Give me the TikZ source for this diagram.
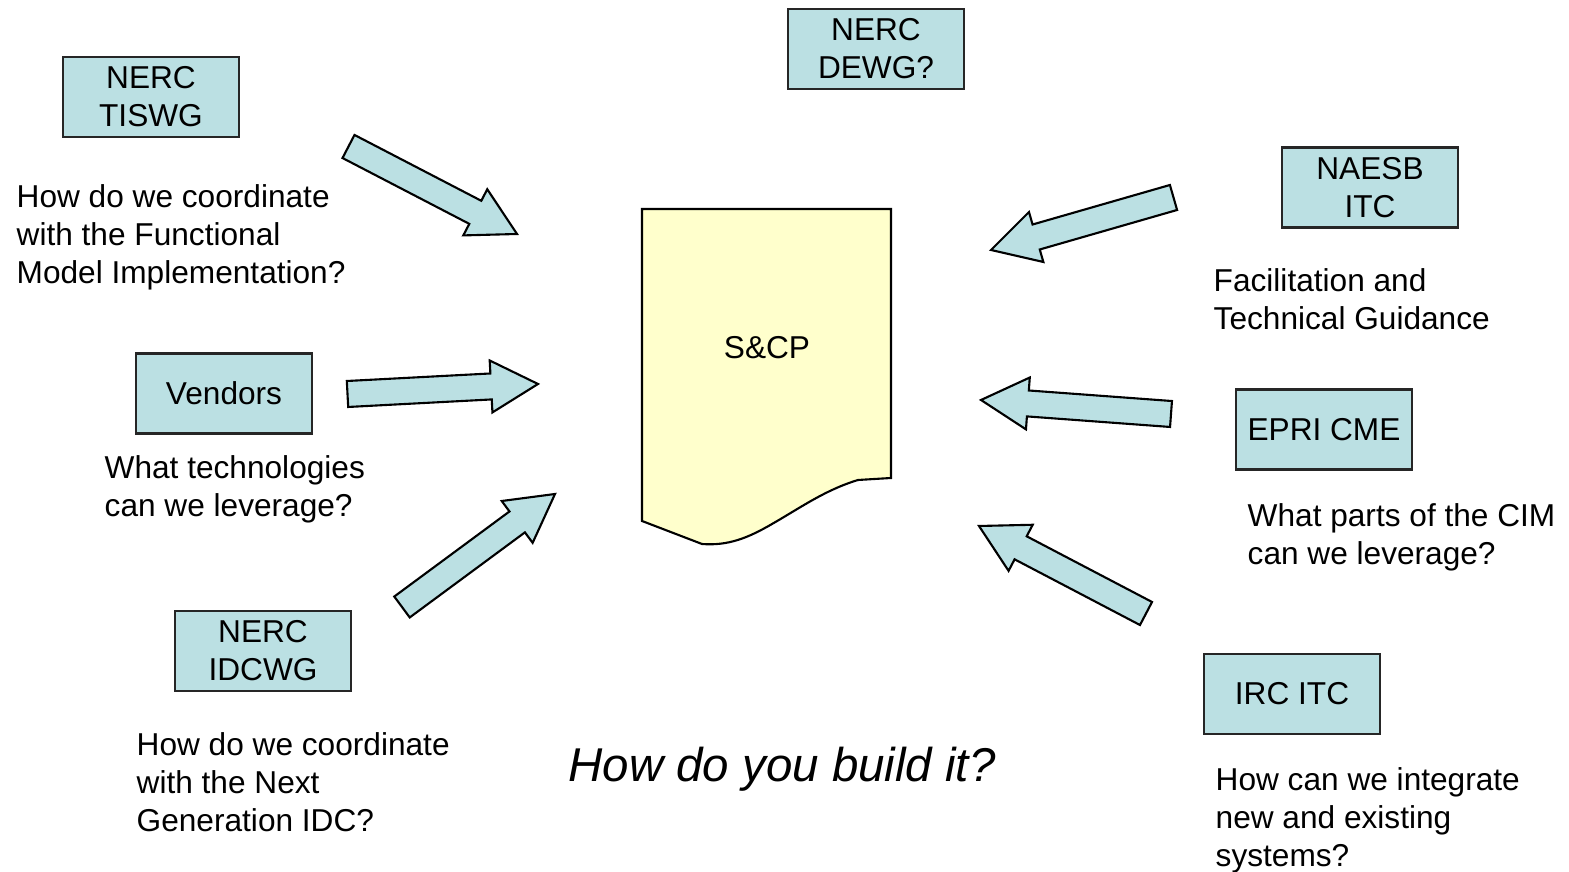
\documentclass[tikz,border=0pt]{standalone}
\usepackage{fontspec}
\setmainfont{Liberation Sans}
\usepackage{xcolor}
\usepackage{tikz}
\usetikzlibrary{calc}
\definecolor{boxblue}{RGB}{187,224,227}
\definecolor{docyellow}{RGB}{255,255,204}
\tikzset{
    box/.style = {align=center, inner sep=0pt, draw=black!85, fill=boxblue, line width=0.6pt, minimum width=17.6mm, minimum height=8mm},
    note/.style = {align=left, inner sep=0pt, anchor=west},
    barrow/.style = {draw=black, fill=boxblue, line width=0.6pt, line join=miter},
    doc/.style = {draw=black, fill=docyellow, line width=0.6pt}
}
% block arrow from #1 to #2
\newcommand{\fatarrow}[2]{%
    \coordinate (#1-b) at ($(#2)!4.7mm!(#1)$);
    \draw[barrow] ($(#1)!1.3mm!90:(#2)$) -- ($(#1-b)!1.3mm!90:(#2)$) -- ($(#1-b)!2.6mm!90:(#2)$)
        -- (#2) -- ($(#1-b)!2.6mm!-90:(#2)$) -- ($(#1-b)!1.3mm!-90:(#2)$) -- ($(#1)!1.3mm!-90:(#2)$) -- cycle;
}

\begin{document}
\begin{tikzpicture}[x=0.1mm, y=-0.1mm, every node/.style={font=\fontsize{9}{10.8}\selectfont}]
    \useasboundingbox (0,0) rectangle (1569,872);
    % the document in the middle
    \draw[doc] (642,209) -- (891,209) -- (891,478) -- (858,480)
        .. controls (825,490) and (800,508) .. (772,524)
        .. controls (748,538) and (728,546) .. (702,544) -- (642,521) -- cycle;
    \node (scp) at (767,348) {S\&CP};

    % groups
    \node [box] (tiswg) at (151,97) {NERC\\TISWG};
    \node [box] (dewg) at (876,49) {NERC\\DEWG?};
    \node [box] (naesb) at (1370,187.5) {NAESB\\ITC};
    \node [box] (vendors) at (224,393.5) {Vendors};
    \node [box] (epri) at (1324,429.5) {EPRI CME};
    \node [box] (idcwg) at (263,651) {NERC\\IDCWG};
    \node [box] (irc) at (1292,694) {IRC ITC};

    % questions
    \node [note] (q1) at (16,237) {How do we coordinate\\with the Functional\\Model Implementation?};
    \node [note] (q2) at (104,489) {What technologies\\can we leverage?};
    \node [note] (q3) at (136,782) {How do we coordinate\\with the Next\\Generation IDC?};
    \node [note] (q4) at (1213,299) {Facilitation and\\Technical Guidance};
    \node [note] (q5) at (1247,537) {What parts of the CIM\\can we leverage?};
    \node [note] (q6) at (1215,820) {How can we integrate\\new and existing\\systems?};
    \node (title) at (782,769) {\fontsize{13.5}{16}\selectfont\itshape How do you build it?};

    % arrows
    \coordinate (t1) at (348.5,146.5); \coordinate (h1) at (517,234);
    \coordinate (t2) at (347.5,394);   \coordinate (h2) at (538,384);
    \coordinate (t3) at (402,607);     \coordinate (h3) at (555,494);
    \coordinate (t4) at (1173.5,197.5); \coordinate (h4) at (991,250);
    \coordinate (t5) at (1171,414);    \coordinate (h5) at (981,400);
    \coordinate (t6) at (1146,613.5);  \coordinate (h6) at (979,526);
    \foreach \i in {1,...,6} {
        \fatarrow{t\i}{h\i}
    }
\end{tikzpicture}
\end{document}
